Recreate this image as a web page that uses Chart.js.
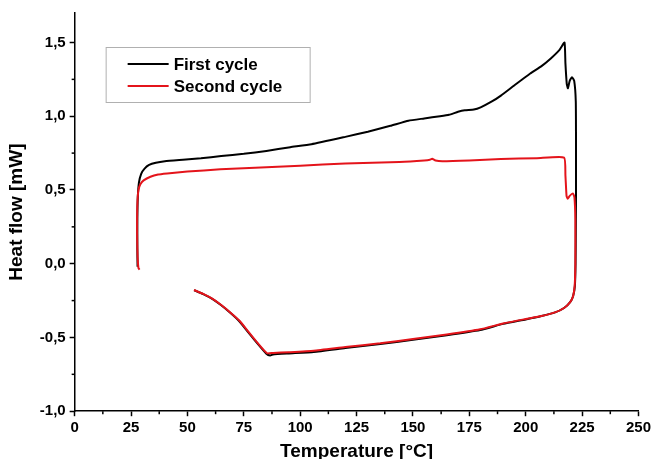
<!DOCTYPE html>
<html>
<head>
<meta charset="utf-8">
<script src="https://cdn.jsdelivr.net/npm/chart.js@4.4.1/dist/chart.umd.min.js"></script>
<style>
  html, body { margin: 0; padding: 0; background: #fff; }
  #wrap { width: 654px; height: 459px; }
</style>
</head>
<body>
<div id="wrap"><canvas id="dsc"></canvas></div>
<script>
// temperatures [°C] and heat flow [mW] (heating then cooling)
const firstT = [27.9, 27.8, 27.8, 28.0, 28.5, 29.5, 31, 33, 36, 40, 48, 56, 65, 75, 85, 95.6, 105, 120, 130, 140, 148, 155, 162, 166, 170, 173, 177, 180, 185, 189, 195, 202, 207, 211, 215, 217.2,
  217.6, 218.2, 218.7, 219.5, 220.5, 221.5, 222.2, 222.3, 222.3, 222.2, 222.1, 221.8, 221, 219.7, 217, 213, 207, 200, 190, 179.8, 165, 150, 135.5, 120, 106, 95, 88, 86.7, 85, 81, 77, 73, 69, 65, 61, 57, 53];
const firstHF = [-0.02, 0.1, 0.3, 0.45, 0.55, 0.61, 0.645, 0.67, 0.685, 0.695, 0.705, 0.715, 0.73, 0.745, 0.765, 0.79, 0.81, 0.86, 0.895, 0.935, 0.97, 0.985, 1.0, 1.01, 1.03, 1.04, 1.045, 1.06, 1.1, 1.14, 1.21, 1.29, 1.34, 1.39, 1.45, 1.5,
  1.36, 1.22, 1.19, 1.24, 1.265, 1.24, 1.1, 0.8, 0.5, 0.2, 0.0, -0.15, -0.22, -0.26, -0.3, -0.33, -0.355, -0.378, -0.408, -0.45, -0.485, -0.515, -0.545, -0.572, -0.598, -0.608, -0.615, -0.622, -0.61, -0.54, -0.465, -0.39, -0.333, -0.282, -0.238, -0.206, -0.18];

const secondT = [28.8, 28.3, 27.9, 27.7, 27.8, 28.3, 29.2, 30.6, 33.6, 37, 41, 50, 64.6, 80, 100, 120, 144, 155, 157.5, 158.5, 160, 163, 175, 189, 205, 217,
  217.6, 218.1, 218.6, 219.5, 220.9, 221.6, 222, 222, 221.7, 221, 219.7, 217, 213, 207, 200, 190, 179.8, 165, 150, 135.5, 120, 106, 95, 88, 85.3, 81, 77, 73, 69, 65, 61, 57, 52.9];
const secondHF = [-0.04, -0.03, 0.05, 0.2, 0.4, 0.5, 0.54, 0.565, 0.59, 0.605, 0.612, 0.625, 0.64, 0.65, 0.665, 0.68, 0.69, 0.7, 0.705, 0.712, 0.7, 0.695, 0.7, 0.71, 0.715, 0.72,
  0.6, 0.46, 0.44, 0.46, 0.477, 0.45, 0.3, 0.0, -0.15, -0.22, -0.26, -0.3, -0.33, -0.355, -0.375, -0.405, -0.445, -0.48, -0.51, -0.54, -0.565, -0.59, -0.6, -0.605, -0.607, -0.535, -0.46, -0.385, -0.33, -0.28, -0.237, -0.205, -0.178];

const xTicks = [0, 25, 50, 75, 100, 125, 150, 175, 200, 225, 250];
const yTicks = [-1.0, -0.5, 0.0, 0.5, 1.0, 1.5];

const toPoints = (xs, ys) => xs.map((x, i) => ({ x: x, y: ys[i] }));

// small minor ticks half way between the labelled ones
const minorTicks = {
  id: 'minorTicks',
  afterDraw(chart) {
    const ctx = chart.ctx;
    const xs = chart.scales.x, ys = chart.scales.y;
    ctx.save();
    ctx.strokeStyle = '#000';
    ctx.lineWidth = 1.5;
    for (let i = 0; i < xTicks.length - 1; i++) {
      const px = xs.getPixelForValue((xTicks[i] + xTicks[i + 1]) / 2);
      ctx.beginPath();
      ctx.moveTo(px, xs.top);
      ctx.lineTo(px, xs.top + 3);
      ctx.stroke();
    }
    for (let i = 0; i < yTicks.length - 1; i++) {
      const py = ys.getPixelForValue((yTicks[i] + yTicks[i + 1]) / 2);
      ctx.beginPath();
      ctx.moveTo(ys.right, py);
      ctx.lineTo(ys.right - 3, py);
      ctx.stroke();
    }
    ctx.restore();
  }
};

// boxed legend inside the plot, top left
const boxLegend = {
  id: 'boxLegend',
  afterDraw(chart) {
    const ctx = chart.ctx;
    const a = chart.chartArea;
    const left = a.left + 31, top = a.top + 34, w = 204, h = 55;
    ctx.save();
    ctx.fillStyle = '#fff';
    ctx.fillRect(left, top, w, h);
    ctx.strokeStyle = '#b0b0b0';
    ctx.lineWidth = 1;
    ctx.strokeRect(left + 0.5, top + 0.5, w, h);
    ctx.font = 'bold 17px "Liberation Sans", Arial, sans-serif';
    ctx.textBaseline = 'middle';
    chart.data.datasets.forEach((ds, i) => {
      const y = top + 17 + i * 22;
      ctx.strokeStyle = ds.borderColor;
      ctx.lineWidth = 2;
      ctx.beginPath();
      ctx.moveTo(left + 22, y);
      ctx.lineTo(left + 63, y);
      ctx.stroke();
      ctx.fillStyle = '#000';
      ctx.fillText(ds.label, left + 68, y + 1);
    });
    ctx.restore();
  }
};

const tickFont = { family: '"Liberation Sans", Arial, sans-serif', size: 15, weight: 'bold' };
const titleFont = { family: '"Liberation Sans", Arial, sans-serif', size: 19, weight: 'bold' };

new Chart(document.getElementById('dsc'), {
  type: 'scatter',
  data: {
    datasets: [
      {
        label: 'First cycle',
        data: toPoints(firstT, firstHF),
        showLine: true,
        borderColor: '#000000',
        borderWidth: 2,
        pointRadius: 0,
        tension: 0.15,
        order: 1
      },
      {
        label: 'Second cycle',
        data: toPoints(secondT, secondHF),
        showLine: true,
        borderColor: '#e4141b',
        borderWidth: 2,
        pointRadius: 0,
        tension: 0.15,
        order: 0
      }
    ]
  },
  options: {
    responsive: true,
    maintainAspectRatio: false,
    animation: false,
    layout: { padding: { top: 13, right: 4, left: 5, bottom: -4 } },
    plugins: {
      legend: { display: false },
      tooltip: { enabled: false }
    },
    scales: {
      x: {
        type: 'linear',
        min: 0,
        max: 250,
        afterBuildTicks: (scale) => { scale.ticks = xTicks.map(v => ({ value: v })); },
        ticks: { color: '#000', font: tickFont, padding: 3, maxRotation: 0, autoSkip: false },
        grid: { drawOnChartArea: false, drawTicks: true, tickLength: 5, tickWidth: 1.5, tickColor: '#000' },
        border: { display: true, color: '#000', width: 1.5 },
        title: { display: true, text: 'Temperature [°C]', color: '#000', font: titleFont, padding: { top: 0, bottom: 0 } }
      },
      y: {
        type: 'linear',
        min: -1,
        max: 1.7,
        afterBuildTicks: (scale) => { scale.ticks = yTicks.map(v => ({ value: v })); },
        ticks: {
          color: '#000', font: tickFont, padding: 4, autoSkip: false,
          callback: (v) => v.toFixed(1).replace('.', ',')
        },
        grid: { drawOnChartArea: false, drawTicks: true, tickLength: 5, tickWidth: 1.5, tickColor: '#000' },
        border: { display: true, color: '#000', width: 1.5 },
        title: { display: true, text: 'Heat flow [mW]', color: '#000', font: titleFont, padding: { top: 0, bottom: 8 } }
      }
    }
  },
  plugins: [minorTicks, boxLegend]
});
</script>
</body>
</html>
